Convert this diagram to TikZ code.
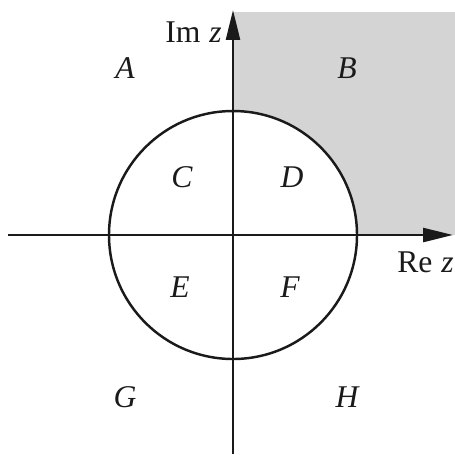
\documentclass[tikz,border=0pt]{standalone}
\usepackage{fontspec}
\setmainfont{Liberation Serif}
\usepackage{xcolor}
\definecolor{ShadeGray}{HTML}{D4D4D4}
\definecolor{InkBlack}{HTML}{1A1A1A}
\usepackage{tikz}
\usetikzlibrary{arrows.meta}
\tikzset{
  axis/.style={-{Triangle[length=0.6cm,width=0.28cm]},draw=InkBlack,line width=1.4pt},
  rim/.style={draw=InkBlack,line width=1.4pt},
  rg/.style={font=\fontsize{18}{21}\selectfont\itshape,text=InkBlack,inner sep=0pt},
  ax/.style={font=\fontsize{18}{21}\selectfont,text=InkBlack,inner sep=0pt},
}
\newcommand{\axl}[1]{\textup{#1}\;\textit{z}}

\begin{document}
\begin{tikzpicture}[x=0.02cm,y=0.02cm]
\useasboundingbox (-233,-219) rectangle (222,235);
% shaded part of the first quadrant
\fill[ShadeGray] (124,0) -- (222,0) -- (222,223) -- (0,223) -- (0,124)
  arc[start angle=90,end angle=0,radius=124] -- cycle;

% unit circle
\draw[rim] (0,0) circle[radius=124];

% axes
\coordinate (o) at (0,0);
\coordinate (xl) at (-225,0);
\coordinate (xr) at (220,0);
\coordinate (yb) at (0,-219);
\coordinate (yt) at (0,225);
\draw[axis] (xl) -- (xr);
\draw[axis] (yb) -- (yt);
\node[ax,anchor=east] (im) at (-11,203) {\axl{Im}};
\node[ax,anchor=west] (re) at (164,-27) {\axl{Re}};

% regions
\foreach \n/\x/\y in {A/-108/167, B/114/167, C/-51/58, D/59/58,
                      E/-53/-52, F/57/-52, G/-108/-162, H/114/-162}{
  \node[rg] (r\n) at (\x,\y) {\n};}
\end{tikzpicture}
\end{document}
